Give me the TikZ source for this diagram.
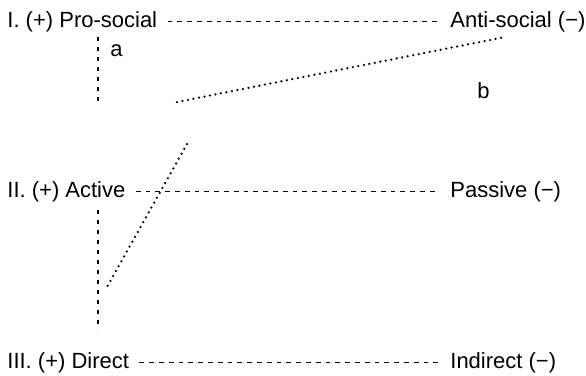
\documentclass[tikz,border=0pt]{standalone}
\usepackage{fontspec}
\setmainfont{Liberation Sans}
\usepackage{tikz}
\usetikzlibrary{positioning}

\begin{document}
\begin{tikzpicture}[
    x=0.5pt,y=-0.5pt,
    every node/.style={font=\fontsize{11}{13}\selectfont,inner sep=0pt},
    pole/.style={anchor=base west},
    axis/.style={dash pattern=on 2.4pt off 2.5pt,line width=0.6pt,shorten <=5pt,shorten >=6pt},
    link/.style={dash pattern=on 2.2pt off 2.8pt,line width=0.6pt},
    path/.style={line width=1.25pt,line cap=round,dash pattern=on 0pt off 2.8pt}
]
\useasboundingbox (0,0) rectangle (586,376);

% Poles of the three dimensions
\node[pole] (pro)     at (7,27)    {I. (+) Pro-social};
\node[pole] (anti)    at (450,27)  {Anti-social (\textminus)};
\node[pole] (active)  at (7,197)   {II. (+) Active};
\node[pole] (passive) at (450,197) {Passive (\textminus)};
\node[pole] (direct)  at (7,368)   {III. (+) Direct};
\node[pole] (indir)   at (450,368) {Indirect (\textminus)};

% Letters
\node[pole] (a) at (110,56) {a};
\node[pole] (b) at (477,98) {b};

% Dimension lines
\draw[axis] (pro) -- (anti);
\draw[axis] (active) -- (passive);
\draw[axis] (direct) -- (indir);

% Links between the levels
\coordinate (l1) at (98,37);
\coordinate (l2) at (98,102);
\coordinate (l3) at (98,210);
\coordinate (l4) at (98,330);
\draw[link] (l1) -- (l2);
\draw[link] (l3) -- (l4);

% Dotted paths
\coordinate (p1) at (177,102);
\coordinate (p2) at (505,37);
\coordinate (p3) at (187,144);
\coordinate (p4) at (107,287);
\draw[path] (p1) -- (p2);
\draw[path] (p3) -- (p4);

\end{tikzpicture}
\end{document}
